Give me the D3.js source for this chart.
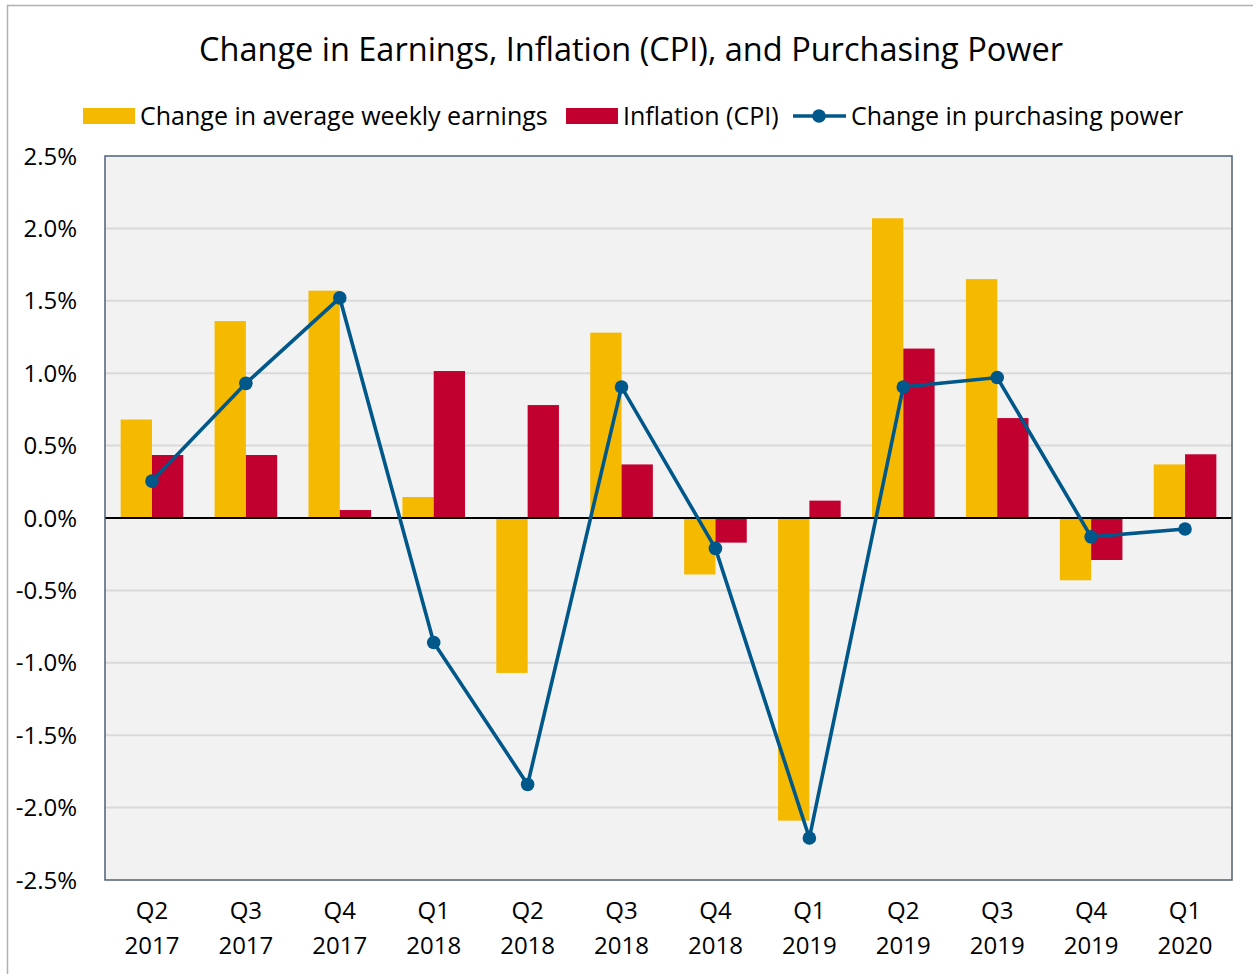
<!DOCTYPE html>
<html>
<head>
<meta charset="utf-8">
<script src="https://cdn.jsdelivr.net/npm/d3@7"></script>
<style>
  body { margin: 0; background: #fff; }
  text { font-family: "Open Sans", "Noto Sans", sans-serif; fill: #000; }
</style>
</head>
<body>
<script>
// quarters on the x axis (two lines each)
const quarters = ["Q2", "Q3", "Q4", "Q1", "Q2", "Q3", "Q4", "Q1", "Q2", "Q3", "Q4", "Q1"];
const years = ["2017", "2017", "2017", "2018", "2018", "2018", "2018", "2019", "2019", "2019", "2019", "2020"];

// values in percent
const earnings = [0.68, 1.36, 1.57, 0.145, -1.07, 1.28, -0.39, -2.09, 2.07, 1.65, -0.43, 0.37];
const cpi = [0.435, 0.435, 0.055, 1.015, 0.78, 0.37, -0.17, 0.12, 1.17, 0.69, -0.29, 0.44];
const purchasing = [0.255, 0.93, 1.52, -0.86, -1.84, 0.905, -0.21, -2.21, 0.905, 0.97, -0.13, -0.076];

const yTicks = [-2.5, -2, -1.5, -1, -0.5, 0, 0.5, 1, 1.5, 2, 2.5];

const w = 1253, h = 974;
const pLeft = 105, pRight = 1232, pTop = 156, pBottom = 880; // plot area

const cols = { earn: "#f5b900", cpi: "#c20030", line: "#00578a" };

const svg = d3.select("body").append("svg")
  .attr("width", w)
  .attr("height", h);

// outer chart frame
svg.append("rect")
  .attr("x", 7.5).attr("y", 5.5)
  .attr("width", w).attr("height", h)
  .attr("fill", "none")
  .attr("stroke", "#b0b0b0")
  .attr("stroke-width", 1.5);

const keys = quarters.map((q, i) => i);

const x = d3.scaleBand()
  .domain(keys)
  .range([pLeft, pRight]);

const xSub = d3.scaleBand()
  .domain(["earn", "cpi"])
  .range([0, x.bandwidth()])
  .paddingOuter(0.5);

const y = d3.scaleLinear()
  .domain([-2.5, 2.5])
  .range([pBottom, pTop]);

// plot background
svg.append("rect")
  .attr("x", pLeft).attr("y", pTop)
  .attr("width", pRight - pLeft).attr("height", pBottom - pTop)
  .attr("fill", "#f2f2f2");

// gridlines
svg.append("g")
  .selectAll("line")
  .data(yTicks.filter(t => t !== 0 && t !== 2.5 && t !== -2.5))
  .enter()
  .append("line")
  .attr("x1", pLeft).attr("x2", pRight)
  .attr("y1", d => y(d)).attr("y2", d => y(d))
  .attr("stroke", "#d9d9d9")
  .attr("stroke-width", 2);

// bars
const groups = svg.append("g")
  .selectAll("g")
  .data(keys)
  .enter()
  .append("g")
  .attr("transform", i => "translate(" + x(i) + ",0)");

groups.append("rect")
  .attr("x", xSub("earn"))
  .attr("width", xSub.bandwidth())
  .attr("y", i => y(Math.max(0, earnings[i])))
  .attr("height", i => Math.abs(y(earnings[i]) - y(0)))
  .attr("fill", cols.earn);

groups.append("rect")
  .attr("x", xSub("cpi"))
  .attr("width", xSub.bandwidth())
  .attr("y", i => y(Math.max(0, cpi[i])))
  .attr("height", i => Math.abs(y(cpi[i]) - y(0)))
  .attr("fill", cols.cpi);

// zero line
svg.append("line")
  .attr("x1", pLeft).attr("x2", pRight)
  .attr("y1", y(0)).attr("y2", y(0))
  .attr("stroke", "#000")
  .attr("stroke-width", 2);

// plot border
svg.append("rect")
  .attr("x", pLeft).attr("y", pTop)
  .attr("width", pRight - pLeft).attr("height", pBottom - pTop)
  .attr("fill", "none")
  .attr("stroke", "#4f5f7a")
  .attr("stroke-width", 1.5);

// purchasing power line
const line = d3.line()
  .x(i => x(i) + x.bandwidth() / 2)
  .y(i => y(purchasing[i]));

svg.append("path")
  .datum(keys)
  .attr("d", line)
  .attr("fill", "none")
  .attr("stroke", cols.line)
  .attr("stroke-width", 3.6);

svg.append("g")
  .selectAll("circle")
  .data(keys)
  .enter()
  .append("circle")
  .attr("cx", i => x(i) + x.bandwidth() / 2)
  .attr("cy", i => y(purchasing[i]))
  .attr("r", 6.8)
  .attr("fill", cols.line);

// y axis labels (plain hyphen for negatives, like the original)
const yAxis = d3.axisLeft(y)
  .tickValues(yTicks)
  .tickSize(0)
  .tickPadding(28)
  .tickFormat(d => d.toFixed(1) + "%");

svg.append("g")
  .attr("transform", "translate(" + pLeft + ",0)")
  .call(yAxis)
  .call(g => g.select(".domain").remove())
  .selectAll("text")
  .style("font-family", "'Open Sans', 'Noto Sans', sans-serif")
  .style("font-size", "24px")
  .attr("fill", "#000")
  .attr("dy", "0.34em");

// x axis labels, two lines
const xl = svg.append("g")
  .selectAll("text")
  .data(keys)
  .enter()
  .append("text")
  .attr("text-anchor", "middle")
  .attr("x", i => x(i) + x.bandwidth() / 2)
  .attr("font-size", 24);

xl.append("tspan")
  .attr("x", i => x(i) + x.bandwidth() / 2)
  .attr("y", 919)
  .text(i => quarters[i]);

xl.append("tspan")
  .attr("x", i => x(i) + x.bandwidth() / 2)
  .attr("y", 954)
  .text(i => years[i]);

// title
svg.append("text")
  .attr("x", 631)
  .attr("y", 61)
  .attr("text-anchor", "middle")
  .attr("font-size", 32.5)
  .text("Change in Earnings, Inflation (CPI), and Purchasing Power");

// legend
const lg = svg.append("g").attr("font-size", 25);

lg.append("rect")
  .attr("x", 83).attr("y", 108)
  .attr("width", 52).attr("height", 16)
  .attr("fill", cols.earn);
lg.append("text")
  .attr("x", 140).attr("y", 125)
  .text("Change in average weekly earnings");

lg.append("rect")
  .attr("x", 566).attr("y", 108)
  .attr("width", 52).attr("height", 16)
  .attr("fill", cols.cpi);
lg.append("text")
  .attr("x", 623).attr("y", 125)
  .text("Inflation (CPI)");

lg.append("line")
  .attr("x1", 793).attr("x2", 846)
  .attr("y1", 116).attr("y2", 116)
  .attr("stroke", cols.line)
  .attr("stroke-width", 3.6);
lg.append("circle")
  .attr("cx", 819).attr("cy", 116)
  .attr("r", 6.8)
  .attr("fill", cols.line);
lg.append("text")
  .attr("x", 851).attr("y", 125)
  .text("Change in purchasing power");
</script>
</body>
</html>
